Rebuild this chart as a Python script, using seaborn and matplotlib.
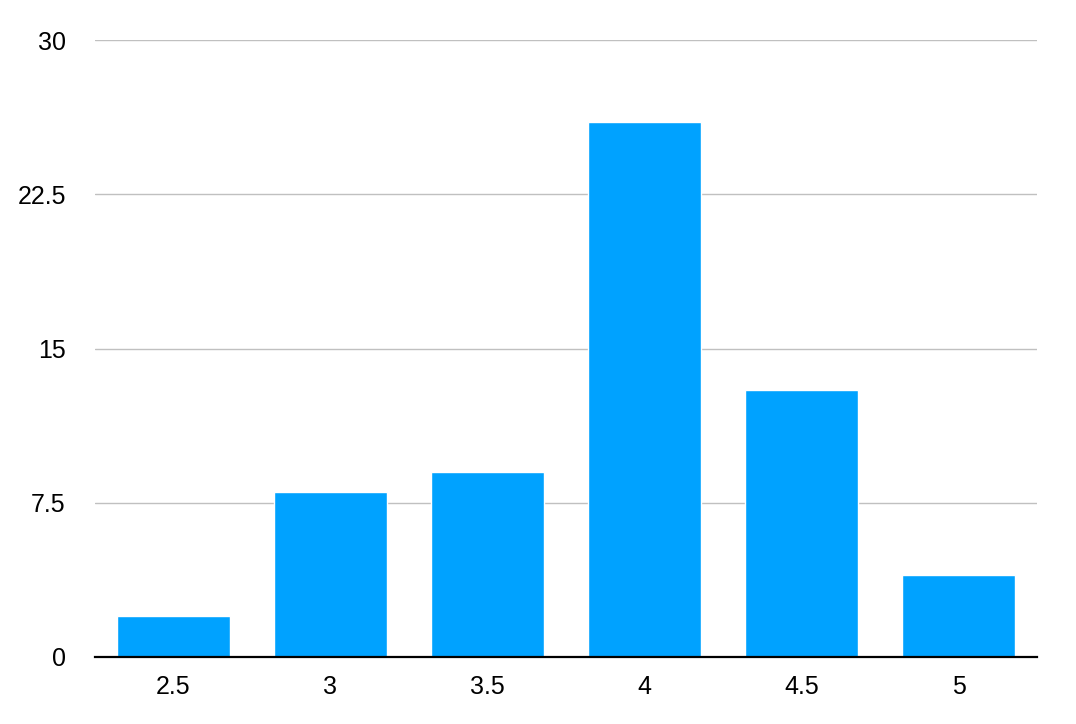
import matplotlib
matplotlib.use("Agg")
import matplotlib.pyplot as plt
import seaborn as sns
import pandas as pd

categories = ["2.5", "3", "3.5", "4", "4.5", "5"]
values = [2, 8, 9, 26, 13, 4]
y_ticks = [0, 7.5, 15, 22.5, 30]
y_tick_labels = ["0", "7.5", "15", "22.5", "30"]

sns.set_theme(style="white")
plt.rcParams['font.family'] = ['Liberation Sans', 'DejaVu Sans']

df = pd.DataFrame({"cat": categories, "val": values})

fig = plt.figure(figsize=(10.76, 7.24), dpi=100)
ax = fig.add_axes([95/1076, 67/724, 942/1076, 617/724])
sns.barplot(data=df, x="cat", y="val", color="#00A2FF", saturation=1, width=0.715, ax=ax, zorder=3)

ax.set_ylim(0, 30)
ax.set_xlim(-0.5, 5.5)
ax.set_yticks(y_ticks)
ax.set_yticklabels(y_tick_labels)
ax.yaxis.grid(True, color="#c0c0c0", linewidth=1, zorder=0)
ax.set_axisbelow(True)
ax.set_xlabel("")
ax.set_ylabel("")
for s in ["top", "right", "left"]:
    ax.spines[s].set_visible(False)
ax.spines["bottom"].set_color("black")
ax.spines["bottom"].set_linewidth(1.6)
ax.spines["bottom"].set_zorder(5)
ax.tick_params(axis="both", length=0, labelsize=18, colors="black")
ax.tick_params(axis="y", pad=21)
ax.tick_params(axis="x", pad=13)

fig.savefig("out.png", dpi=100)
